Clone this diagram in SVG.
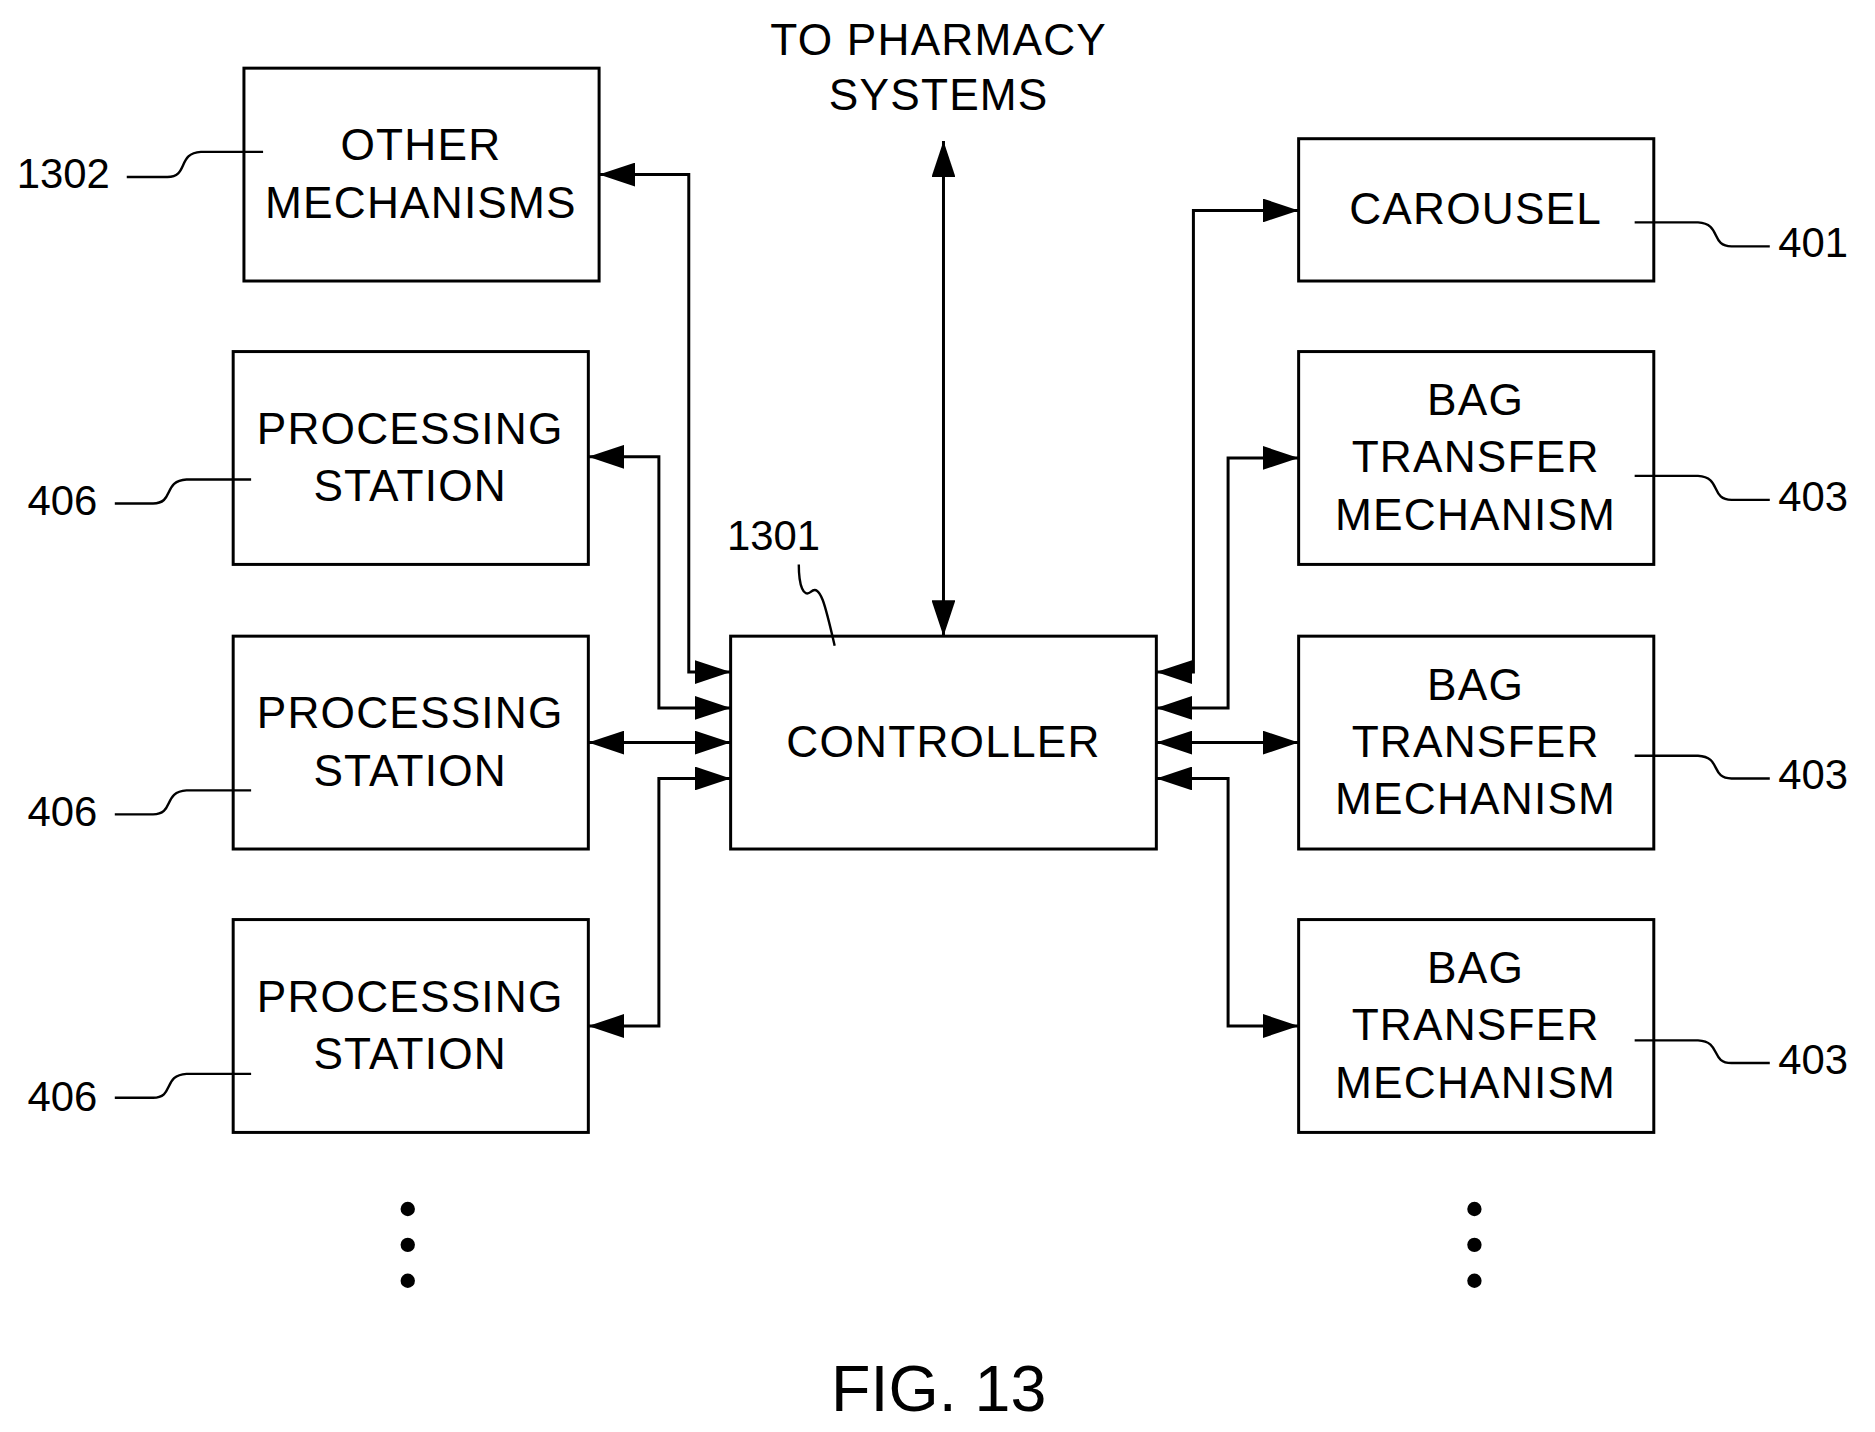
<svg xmlns="http://www.w3.org/2000/svg" width="1875" height="1432" viewBox="0 0 1875 1432">
<defs>
<marker id="ah" viewBox="0 0 30 20" refX="30" refY="10" markerWidth="30" markerHeight="20" markerUnits="userSpaceOnUse" orient="auto-start-reverse"><path d="M0,0 L30,10 L0,20 Z" fill="#000"/></marker>
<style>
.box{fill:#fff;stroke:#000;stroke-width:2.5}
.t{font-family:"Liberation Sans",Arial,sans-serif;font-size:37px;text-anchor:middle;fill:#000;letter-spacing:1px}
.l{font-family:"Liberation Sans",Arial,sans-serif;font-size:35px;fill:#000}
.c{fill:none;stroke:#000;stroke-width:2.5}
.s{fill:none;stroke:#000;stroke-width:2}
</style>
</defs>
<rect width="1875" height="1432" fill="#fff"/>
<g transform="scale(1.1958)">
<g id="connectors">
<path class="c" d="M789,118 L789,532" marker-start="url(#ah)" marker-end="url(#ah)"/>
<path class="c" d="M501,146 L576,146 L576,562 L611,562" marker-start="url(#ah)" marker-end="url(#ah)"/>
<path class="c" d="M492,382 L551,382 L551,592 L611,592" marker-start="url(#ah)" marker-end="url(#ah)"/>
<path class="c" d="M492,621 L611,621" marker-start="url(#ah)" marker-end="url(#ah)"/>
<path class="c" d="M492,858 L551,858 L551,651 L611,651" marker-start="url(#ah)" marker-end="url(#ah)"/>
<path class="c" d="M1086,176 L998,176 L998,562 L967,562" marker-start="url(#ah)" marker-end="url(#ah)"/>
<path class="c" d="M1086,383 L1027,383 L1027,592 L967,592" marker-start="url(#ah)" marker-end="url(#ah)"/>
<path class="c" d="M1086,621 L967,621" marker-start="url(#ah)" marker-end="url(#ah)"/>
<path class="c" d="M1086,858 L1027,858 L1027,651 L967,651" marker-start="url(#ah)" marker-end="url(#ah)"/>
</g>
<text class="t" x="785" y="46">TO PHARMACY</text>
<text class="t" x="785" y="92">SYSTEMS</text>
<g id="controller"><rect class="box" x="611" y="532" width="356" height="178"/><text class="t" x="789" y="633">CONTROLLER</text>
<text class="l" x="608" y="460">1301</text><path class="s" d="M668,472 C668,490 672,500 678,495 C686,488 690,505 698,540"/></g>
<g id="other"><rect class="box" x="204" y="57" width="297" height="178"/><text class="t" x="352" y="134">OTHER</text><text class="t" x="352" y="182">MECHANISMS</text>
<text class="l" x="14" y="157">1302</text><path class="s" d="M106,148 L140,148 C158,148 148,128 168,127 L220,127"/></g>
<g id="ps1"><rect class="box" x="195" y="294" width="297" height="178"/><text class="t" x="343" y="371">PROCESSING</text><text class="t" x="343" y="419">STATION</text>
<text class="l" x="23" y="431">406</text><path class="s" d="M96,421 L128,421 C146,421 136,402 156,401 L210,401"/></g>
<g id="ps2"><rect class="box" x="195" y="532" width="297" height="178"/><text class="t" x="343" y="609">PROCESSING</text><text class="t" x="343" y="657">STATION</text>
<text class="l" x="23" y="691">406</text><path class="s" d="M96,681 L128,681 C146,681 136,662 156,661 L210,661"/></g>
<g id="ps3"><rect class="box" x="195" y="769" width="297" height="178"/><text class="t" x="343" y="846">PROCESSING</text><text class="t" x="343" y="894">STATION</text>
<text class="l" x="23" y="929">406</text><path class="s" d="M96,918 L128,918 C146,918 136,899 156,898 L210,898"/></g>
<g id="carousel"><rect class="box" x="1086" y="116" width="297" height="119"/><text class="t" x="1234" y="187">CAROUSEL</text>
<text class="l" x="1487" y="215">401</text><path class="s" d="M1367,186 L1420,186 C1440,187 1430,206 1448,206 L1480,206"/></g>
<g id="bt1"><rect class="box" x="1086" y="294" width="297" height="178"/><text class="t" x="1234" y="347">BAG</text><text class="t" x="1234" y="395">TRANSFER</text><text class="t" x="1234" y="443">MECHANISM</text>
<text class="l" x="1487" y="427">403</text><path class="s" d="M1367,398 L1420,398 C1440,399 1430,418 1448,418 L1480,418"/></g>
<g id="bt2"><rect class="box" x="1086" y="532" width="297" height="178"/><text class="t" x="1234" y="585">BAG</text><text class="t" x="1234" y="633">TRANSFER</text><text class="t" x="1234" y="681">MECHANISM</text>
<text class="l" x="1487" y="660">403</text><path class="s" d="M1367,632 L1420,632 C1440,633 1430,651 1448,651 L1480,651"/></g>
<g id="bt3"><rect class="box" x="1086" y="769" width="297" height="178"/><text class="t" x="1234" y="822">BAG</text><text class="t" x="1234" y="870">TRANSFER</text><text class="t" x="1234" y="918">MECHANISM</text>
<text class="l" x="1487" y="898">403</text><path class="s" d="M1367,870 L1420,870 C1440,871 1430,889 1448,889 L1480,889"/></g>
<g fill="#000"><circle cx="341" cy="1011" r="6"/><circle cx="341" cy="1041" r="6"/><circle cx="341" cy="1071" r="6"/><circle cx="1233" cy="1011" r="6"/><circle cx="1233" cy="1041" r="6"/><circle cx="1233" cy="1071" r="6"/></g>
<text class="t" x="785" y="1180" style="font-size:54px;letter-spacing:0">FIG. 13</text>
</g>
</svg>
